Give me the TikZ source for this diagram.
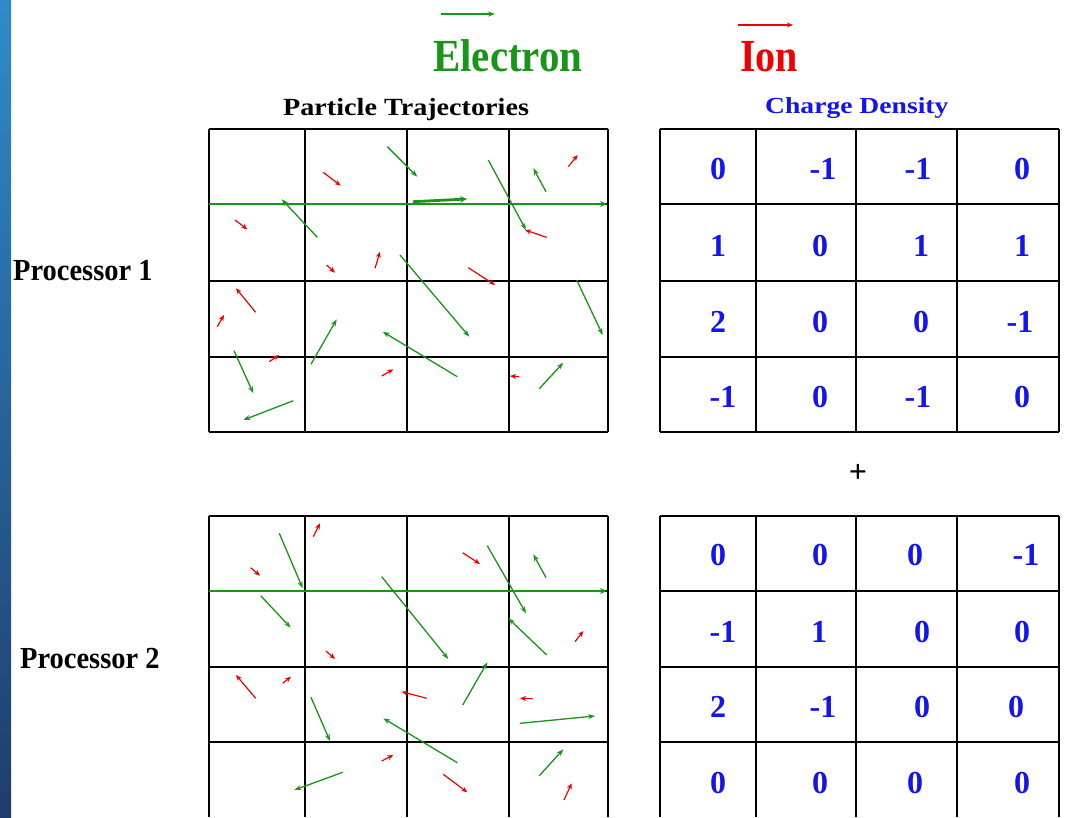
\documentclass[tikz,border=0pt]{standalone}
\usepackage{fontspec}
\setmainfont{Liberation Serif}
\usetikzlibrary{arrows.meta}
\definecolor{eg}{RGB}{25,150,25}
\definecolor{ir}{RGB}{240,0,0}
\definecolor{nb}{RGB}{20,20,240}
\definecolor{stripT}{RGB}{46,139,201}
\definecolor{stripB}{RGB}{31,60,108}
\tikzset{
  gridline/.style={line width=1.5pt, black},
  el/.style={eg, line width=1.3pt, -{Stealth[length=7pt,width=5pt]}},
  elwide/.style={eg, line width=2.1pt, -{Stealth[length=7pt,width=6pt]}},
  io/.style={ir, line width=1.2pt, -{Stealth[length=6pt,width=5pt]}},
  num/.style={text=nb, font=\fontsize{32}{32}\selectfont\bfseries, inner sep=0pt},
  lbl/.style={inner sep=0pt, anchor=base west},
}
\begin{document}
\begin{tikzpicture}[x=1pt,y=-1pt]
\useasboundingbox (0,0) rectangle (1066,817);
\fill[white] (0,0) rectangle (1066,817);
\shade[top color=stripT, bottom color=stripB] (0pt,0pt) rectangle (11pt,-817pt);

% legend
\node[lbl, text=eg, font=\fontsize{46}{46}\selectfont\bfseries] (electron) at (433,71) {\scalebox{0.89}[1]{Electron}};
\node[lbl, text=ir, font=\fontsize{46}{46}\selectfont\bfseries] (ion) at (740,71) {\scalebox{0.87}[1]{Ion}};
\coordinate (ea) at (441,14); \coordinate (eb) at (495,14);
\draw[el] (ea) -- (eb);
\coordinate (ia) at (738,25); \coordinate (ib) at (793,25);
\draw[io] (ia) -- (ib);

% headings
\node[lbl, font=\fontsize{24.7}{25}\selectfont\bfseries] (pt) at (283,115) {\scalebox{1.14}[1]{Particle Trajectories}};
\node[lbl, text=nb, font=\fontsize{23}{23}\selectfont\bfseries] (cd) at (765,113.3) {\scalebox{1.2}[1]{Charge Density}};
\node[lbl, font=\fontsize{30.6}{31}\selectfont\bfseries] (p1) at (13,280) {\scalebox{0.93}[1]{Processor 1}};
\node[lbl, font=\fontsize{30.6}{31}\selectfont\bfseries] (p2) at (20,668) {\scalebox{0.93}[1]{Processor 2}};
\node[inner sep=0pt, font=\fontsize{32}{32}\selectfont\bfseries] (plus) at (858,473) {+};

% particle grid 1
\foreach \x in {209,305,407,509,608} \draw[gridline] (\x,129) -- (\x,432);
\foreach \y in {129,204,281,357,432} \draw[gridline] (209,\y) -- (608,\y);
% particle grid 2
\foreach \x in {209,305,407,509,608} \draw[gridline] (\x,516) -- (\x,817);
\foreach \y in {516,591,667,742} \draw[gridline] (209,\y) -- (608,\y);
% charge grid 1
\foreach \x in {660,756,856,957,1059} \draw[gridline] (\x,129) -- (\x,432);
\foreach \y in {129,204,281,357,432} \draw[gridline] (660,\y) -- (1059,\y);
% charge grid 2
\foreach \x in {660,756,856,957,1059} \draw[gridline] (\x,516) -- (\x,817);
\foreach \y in {516,591,667,742} \draw[gridline] (660,\y) -- (1059,\y);

% charge numbers grid 1
\node[num] (a11) at (718,169) {0};
\node[num] (a12) at (823,169) {-1};
\node[num] (a13) at (918,169) {-1};
\node[num] (a14) at (1022,169) {0};
\node[num] (a21) at (718,246) {1};
\node[num] (a22) at (820,246) {0};
\node[num] (a23) at (921,246) {1};
\node[num] (a24) at (1022,246) {1};
\node[num] (a31) at (718,322) {2};
\node[num] (a32) at (820,322) {0};
\node[num] (a33) at (921,322) {0};
\node[num] (a34) at (1020,322) {-1};
\node[num] (a41) at (723,397) {-1};
\node[num] (a42) at (820,397) {0};
\node[num] (a43) at (918,397) {-1};
\node[num] (a44) at (1022,397) {0};
% charge numbers grid 2
\node[num] (b11) at (718,555) {0};
\node[num] (b12) at (820,555) {0};
\node[num] (b13) at (915,555) {0};
\node[num] (b14) at (1026,555) {-1};
\node[num] (b21) at (723,632) {-1};
\node[num] (b22) at (819,632) {1};
\node[num] (b23) at (922,632) {0};
\node[num] (b24) at (1022,632) {0};
\node[num] (b31) at (718,707) {2};
\node[num] (b32) at (823,707) {-1};
\node[num] (b33) at (922,707) {0};
\node[num] (b34) at (1016,707) {0};
\node[num] (b41) at (718,783) {0};
\node[num] (b42) at (820,783) {0};
\node[num] (b43) at (915,783) {0};
\node[num] (b44) at (1022,783) {0};

% electrons, processor 1
\draw[elwide] (209,204) -- (607,204);
\draw[eg, line width=2.8pt, -{Stealth[length=7pt,width=6.5pt]}] (413,201.7) -- (467,199);
\draw[el] (387.3,146.7) -- (417.3,176.7);
\draw[el] (488.3,160) -- (526,230);
\draw[el] (546,191.7) -- (533.3,168.3);
\draw[el] (317.3,237.3) -- (281.7,199.3);
\draw[el] (400,255) -- (469.3,336.7);
\draw[el] (576.7,280) -- (602.7,335);
\draw[el] (311,364.3) -- (336.7,319.3);
\draw[el] (457.3,376.7) -- (382.7,331.7);
\draw[el] (234,350.7) -- (253.3,393.3);
\draw[el] (293.3,400.7) -- (243.3,420);
\draw[el] (539.3,388.7) -- (563.3,362.7);
% ions, processor 1
\draw[io] (323.3,172.3) -- (340.7,185.7);
\draw[io] (568.3,166.7) -- (577.7,155);
\draw[io] (235,220) -- (247.3,229.3);
\draw[io] (546.7,237.3) -- (525,230);
\draw[io] (326.7,265) -- (335,272.7);
\draw[io] (375,268.3) -- (380,251.7);
\draw[io] (468.3,267.7) -- (495,285);
\draw[io] (255.7,312.3) -- (236,288.3);
\draw[io] (217.3,326.7) -- (224,315);
\draw[io] (269.3,361.7) -- (279,355);
\draw[io] (381.7,376) -- (393.3,369.3);
\draw[io] (519.3,376.7) -- (510,376);

% electrons, processor 2
\draw[elwide] (209,591) -- (607,591);
\draw[el] (279.3,533.3) -- (302.7,588.3);
\draw[el] (260.7,595.7) -- (290.7,627.7);
\draw[el] (381.7,576.7) -- (448.3,659);
\draw[el] (487.3,545.7) -- (526,613.3);
\draw[el] (546,577.7) -- (533.3,554.3);
\draw[el] (546.7,655) -- (508.3,618.3);
\draw[el] (462.7,705) -- (487.3,662.3);
\draw[el] (311,697.3) -- (330,741);
\draw[el] (457.3,762.7) -- (383.3,718.3);
\draw[el] (520,723.3) -- (595,716);
\draw[el] (342.7,772.3) -- (294.3,790);
\draw[el] (539.3,775.7) -- (563.3,749.3);
% ions, processor 2
\draw[io] (313.3,536.7) -- (320,523.3);
\draw[io] (250.7,567.7) -- (260,575.7);
\draw[io] (462.7,552.7) -- (480,564);
\draw[io] (575,641.7) -- (583.3,631);
\draw[io] (326,651) -- (335,659);
\draw[io] (255.7,698.3) -- (236,675);
\draw[io] (282.7,683.3) -- (291,676.7);
\draw[io] (426.7,698.3) -- (401.7,691.7);
\draw[io] (532.7,698.7) -- (520,698.3);
\draw[io] (381.7,761) -- (393.3,755);
\draw[io] (443.3,774.3) -- (467.3,792.3);
\draw[io] (564,800) -- (571.7,783.3);
\end{tikzpicture}
\end{document}
